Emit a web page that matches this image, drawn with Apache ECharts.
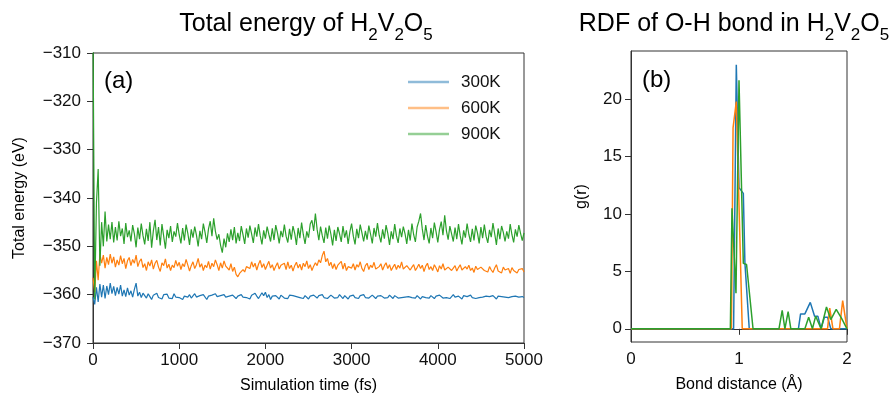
<!DOCTYPE html>
<html><head><meta charset="utf-8">
<script src="https://cdn.jsdelivr.net/npm/echarts@6/dist/echarts.min.js"></script>
<style>html,body{margin:0;padding:0;background:#fff}#c{width:896px;height:399px}</style>
</head><body><div id="c"></div>
<script>
// ---------- data ----------
const seriesNames = ['300K', '600K', '900K'];
const timeStep = 20; // fs between samples

const energy300K = [
-360.5,-362.0,-358.5,-361.5,-357.8,-360.5,-358.0,-360.8,-358.2,-360.0,
-357.6,-359.8,-358.3,-360.2,-358.5,-359.9,-358.0,-360.3,-359.0,-360.4,
-358.6,-360.1,-359.2,-360.5,-358.9,-357.6,-360.3,-359.5,-360.6,-359.7,
-360.2,-360.7,-359.8,-360.4,-361.0,-360.1,-360.5,-359.7,-360.6,-360.2,
-360.9,-360.0,-360.4,-359.9,-360.7,-360.3,-360.8,-359.8,-360.5,-360.1,
-360.6,-360.2,-361.0,-360.3,-359.9,-360.5,-360.0,-360.7,-360.4,-359.8,
-360.5,-360.9,-360.2,-360.6,-360.0,-360.4,-361.0,-360.3,-360.7,-360.1,
-360.5,-359.8,-360.4,-360.8,-360.2,-360.6,-360.0,-360.5,-360.9,-360.3,
-360.6,-360.1,-360.4,-360.8,-360.3,-360.7,-360.0,-360.5,-360.2,-360.6,
-360.4,-360.9,-360.1,-360.5,-359.7,-360.3,-360.8,-360.4,-359.6,-360.2,
-359.5,-360.6,-360.0,-361.0,-360.3,-360.7,-360.2,-360.5,-360.9,-360.1,
-360.4,-360.7,-360.3,-360.8,-360.1,-360.5,-360.2,-360.6,-360.4,-360.0,
-360.6,-360.3,-360.8,-360.2,-360.5,-360.9,-360.3,-360.6,-360.1,-360.4,
-360.7,-360.2,-360.5,-360.0,-360.6,-360.3,-360.8,-360.4,-360.1,-360.5,
-360.7,-360.3,-360.6,-360.0,-360.4,-360.8,-360.2,-360.5,-360.9,-360.3,
-360.5,-360.1,-360.6,-360.4,-360.8,-360.2,-360.5,-360.0,-360.6,-360.3,
-360.7,-360.4,-360.1,-360.5,-360.8,-360.3,-360.6,-360.2,-360.5,-360.7,
-360.3,-360.6,-360.1,-360.4,-360.8,-360.2,-360.5,-360.7,-360.3,-360.6,
-360.2,-360.5,-360.8,-360.4,-360.1,-360.6,-360.3,-360.7,-360.2,-360.5,
-360.9,-360.4,-360.0,-360.6,-360.3,-360.7,-360.2,-360.5,-360.8,-360.3,
-360.6,-360.1,-360.5,-360.7,-360.3,-360.6,-360.2,-360.8,-360.4,-360.0,
-360.5,-360.7,-360.3,-360.6,-360.9,-360.2,-360.5,-360.4,-360.7,-360.1,
-360.6,-360.3,-360.8,-360.4,-360.6,-360.2,-360.5,-360.8,-360.3,-360.6,
-360.4,-360.7,-360.2,-360.5,-360.9,-360.3,-360.6,-360.4,-360.8,-360.5,
-360.2,-360.6,-360.9,-360.4,-360.7,-360.3,-360.6,-360.5,-360.8,-360.4,
-360.6
];

const energy600K = [
-356.5,-359.5,-353.0,-357.0,-351.5,-353.5,-351.8,-354.5,-352.3,-353.8,-351.6,
-353.5,-352.2,-354.3,-352.8,-353.9,-351.9,-353.6,-352.5,-354.6,-353.0,
-352.3,-354.0,-352.7,-353.5,-351.8,-354.2,-353.1,-352.6,-354.4,
-353.6,-355.0,-353.2,-354.1,-352.8,-354.7,-353.5,-352.9,-354.3,-355.2,
-353.4,-354.0,-352.6,-354.5,-353.7,-355.0,-353.9,-354.4,-352.9,-354.1,
-353.3,-354.8,-353.6,-354.2,-352.7,-353.9,-355.1,-354.0,-353.2,-354.6,
-353.8,-352.5,-354.3,-353.6,-355.0,-353.9,-354.4,-353.1,-354.7,-353.5,
-354.2,-352.8,-353.8,-355.0,-353.4,-354.5,-353.0,-354.1,-353.7,-354.9,
-353.6,-355.2,-354.3,-355.8,-356.3,-355.6,-356.0,-354.8,-355.3,-354.2,
-353.8,-354.6,-353.2,-354.3,-353.5,-354.9,-353.7,-352.9,-354.4,-353.6,
-354.8,-353.9,-353.1,-354.5,-353.8,-355.0,-354.1,-353.4,-354.7,-353.9,
-354.3,-353.5,-354.8,-353.2,-354.6,-353.9,-355.1,-354.0,-353.3,-354.5,
-353.7,-354.9,-353.5,-354.2,-353.0,-354.6,-353.8,-355.0,-354.1,-353.4,
-354.0,-352.8,-353.4,-351.9,-351.0,-353.2,-352.5,-354.0,-353.3,-354.6,
-353.6,-354.8,-353.9,-354.3,-353.1,-354.7,-353.5,-355.0,-354.2,-353.8,
-354.5,-353.6,-354.9,-353.8,-354.3,-353.2,-354.6,-355.2,-354.0,-353.5,
-354.8,-353.9,-354.4,-353.3,-354.7,-355.1,-354.2,-353.6,-354.9,-354.0,
-353.4,-354.6,-353.8,-355.0,-354.3,-353.7,-354.8,-353.9,-354.5,-353.2,
-354.7,-355.1,-354.0,-353.6,-354.9,-354.3,-353.8,-355.0,-354.4,-353.7,
-354.6,-353.9,-355.2,-354.1,-353.5,-354.8,-354.2,-355.0,-353.8,-354.5,
-355.3,-354.0,-354.7,-353.6,-354.9,-355.2,-354.3,-353.9,-355.0,-354.5,
-354.0,-355.1,-354.4,-353.8,-354.9,-355.3,-354.2,-354.7,-353.9,-355.0,
-354.5,-355.4,-354.1,-354.8,-355.2,-354.3,-353.9,-355.0,-354.6,-355.3,
-354.2,-354.9,-355.4,-354.5,-353.8,-355.1,-354.7,-355.5,-354.3,-354.9,
-355.2,-354.6,-355.6,-354.4,-355.0,-354.7,-355.5,-354.8,-355.2,-354.6,
-355.3
];

const energy900K = [
-305.0,-361.0,-341.0,-334.0,-354.0,-345.0,-350.0,-342.8,-349.0,-345.5,-348.5,
-345.0,-349.2,-346.0,-348.8,-344.8,-347.9,-346.3,-349.5,-345.2,-348.1,
-346.7,-349.0,-345.6,-347.4,-350.2,-346.1,-348.5,-345.3,-347.8,
-349.6,-346.4,-348.9,-345.0,-350.3,-346.8,-344.5,-348.7,-346.0,-349.8,
-345.4,-347.9,-350.5,-346.6,-348.3,-345.8,-349.1,-346.9,-348.0,-345.2,
-347.6,-349.4,-346.2,-348.8,-345.5,-347.3,-349.7,-346.5,-348.2,-345.9,
-347.7,-350.0,-346.8,-348.5,-345.3,-347.1,-349.3,-346.4,-344.8,-347.9,
-344.2,-346.9,-348.6,-347.5,-349.8,-351.3,-348.4,-350.2,-347.3,-349.1,
-346.5,-348.7,-346.0,-349.4,-347.2,-348.9,-345.8,-347.6,-349.5,-346.3,
-348.2,-345.7,-347.4,-349.3,-346.1,-348.0,-345.4,-347.8,-349.6,-346.7,
-348.4,-345.9,-347.5,-349.0,-346.3,-348.7,-345.6,-347.2,-349.4,-346.8,
-348.1,-345.5,-347.9,-349.2,-346.4,-348.6,-345.8,-347.3,-349.7,-346.2,
-348.3,-345.1,-347.6,-349.5,-346.9,-348.2,-345.4,-344.6,-346.8,-343.2,
-346.5,-348.7,-345.9,-347.8,-349.3,-346.1,-348.4,-345.7,-347.5,-349.8,
-346.6,-348.9,-346.0,-347.4,-349.1,-345.8,-348.2,-346.7,-349.5,-347.0,
-345.3,-347.9,-349.6,-346.4,-348.3,-345.5,-347.2,-349.0,-346.8,-348.6,
-345.7,-347.5,-349.4,-346.2,-348.0,-345.2,-347.7,-349.2,-346.5,-348.4,
-345.6,-347.3,-349.7,-346.9,-348.5,-345.4,-347.8,-349.3,-346.3,-348.1,
-345.9,-347.4,-349.5,-346.6,-348.8,-345.3,-347.6,-349.1,-346.0,-344.8,
-343.2,-346.4,-348.7,-345.6,-347.9,-349.4,-346.2,-348.3,-345.1,-347.0,
-349.2,-346.5,-344.9,-347.7,-343.6,-346.8,-348.6,-345.8,-347.4,-349.0,
-346.1,-348.5,-345.4,-347.8,-349.6,-346.7,-348.2,-345.3,-347.5,-349.1,
-346.4,-348.8,-345.7,-347.2,-349.4,-346.0,-348.3,-345.5,-347.9,-349.3,
-346.6,-348.1,-345.2,-347.4,-349.7,-346.3,-348.5,-345.8,-347.1,-349.0,
-346.9,-348.4,-345.4,-347.6,-349.2,-346.5,-348.0,-345.6,-347.3,-348.8,
-347.2
];

const energyTicks = [-370, -360, -350, -340, -330, -320, -310];
const timeTicks = [0, 1000, 2000, 3000, 4000, 5000];

// RDF of O-H bond
const rdfDist300K = [0, 0.95, 0.975, 1.0, 1.04, 1.055, 1.095, 1.55, 1.57, 1.61, 1.66, 1.70, 1.73, 1.76, 1.79, 1.82, 1.85, 2.0];
const rdfG300K    = [0, 0,    23.0,  12.3, 11.8, 5.7,   0,     0,    1.3,  1.3,  2.3,  1.1,  1.1,  0,    1.0,  1.0,  0,    0];
const rdfDist600K = [0, 0.93, 0.945, 0.975, 1.03, 1.82, 1.84, 1.87, 1.93, 1.96, 2.0];
const rdfG600K    = [0, 0,    17.5,  19.8,  0,    0,    1.8,  0,    0,    2.45, 0];
const rdfDist900K = [0, 0.92, 0.935, 0.972, 1.0, 1.04, 1.07, 1.13, 1.37, 1.40, 1.425, 1.455, 1.48, 1.61, 1.645, 1.68, 1.71, 1.76, 1.81, 1.85, 1.90, 1.95, 2.0];
const rdfG900K    = [0, 0,    10.5,  3.1,   21.65, 5.7, 5.6,  0,    0,    1.6,  0,     1.5,   0,    0,    1.0,   0,    1.1,  0,    1.9,  0.8,  1.7,  0.9,  0];
const gTicks = [0, 5, 10, 15, 20];
const distTicks = [0, 1, 2];

// ---------- style ----------
const colors = ['#1f77b4', '#ff7f0e', '#2ca02c'];
const legendColors = ['#8fbbd9', '#ffbf86', '#95cf95'];
const FF = 'Liberation Sans, Arial, sans-serif';
const AX = '#333';
const plain = v => String(v).replace('-', '\u2212');

const energies = [energy300K, energy600K, energy900K];
const rdfX = [rdfDist300K, rdfDist600K, rdfDist900K];
const rdfY = [rdfG300K, rdfG600K, rdfG900K];

const chart = echarts.init(document.getElementById('c'), null, {renderer: 'canvas'});

const titleRich = {
  n: {fontSize: 25, fontFamily: FF, color: '#000', lineHeight: 30, verticalAlign: 'top'},
  s: {fontSize: 17, fontFamily: FF, color: '#000', lineHeight: 17, padding: [15, 0, 0, 0], verticalAlign: 'top'}
};

const baseAxis = {
  axisLine: {show: true, lineStyle: {color: AX, width: 1}},
  axisTick: {show: true, inside: false, length: 6, lineStyle: {color: AX}},
  splitLine: {show: false},
  nameTextStyle: {fontFamily: FF, fontSize: 16, color: '#000'}
};

const option = {
  animation: false,
  backgroundColor: '#fff',
  grid: [
    {left: 93, top: 53, width: 431, height: 290, show: true, borderColor: AX, borderWidth: 1, containLabel: false},
    {left: 631, top: 51, width: 216, height: 291, show: true, borderColor: AX, borderWidth: 1, containLabel: false}
  ],
  xAxis: [
    Object.assign({}, baseAxis, {
      type: 'value', gridIndex: 0, min: 0, max: 5000, interval: 1000,
      name: 'Simulation time (fs)', nameLocation: 'middle', nameGap: 35,
      axisLabel: {fontFamily: FF, fontSize: 17, color: '#111', margin: 9, formatter: plain, customValues: timeTicks},
      axisTick: Object.assign({}, baseAxis.axisTick, {customValues: timeTicks})
    }),
    Object.assign({}, baseAxis, {
      type: 'value', gridIndex: 1, min: 0, max: 2, interval: 1,
      name: 'Bond distance (\u00c5)', nameLocation: 'middle', nameGap: 35,
      axisLabel: {fontFamily: FF, fontSize: 17, color: '#111', margin: 9, formatter: plain, customValues: distTicks},
      axisTick: Object.assign({}, baseAxis.axisTick, {customValues: distTicks})
    })
  ],
  yAxis: [
    Object.assign({}, baseAxis, {
      type: 'value', gridIndex: 0, min: -370, max: -310, interval: 10,
      name: 'Total energy (eV)', nameLocation: 'middle', nameGap: 65, nameRotate: 90,
      axisLabel: {fontFamily: FF, fontSize: 17, color: '#111', margin: 12, formatter: plain, customValues: energyTicks},
      axisTick: Object.assign({}, baseAxis.axisTick, {customValues: energyTicks})
    }),
    Object.assign({}, baseAxis, {
      type: 'value', gridIndex: 1, min: -1.15, max: 24.2,
      name: 'g(r)', nameLocation: 'middle', nameGap: 41, nameRotate: 90,
      axisLabel: {fontFamily: FF, fontSize: 17, color: '#111', margin: 9, formatter: plain, customValues: gTicks},
      axisTick: Object.assign({}, baseAxis.axisTick, {customValues: gTicks})
    })
  ],
  legend: {
    orient: 'vertical', left: 403, top: 68,
    icon: 'rect', itemWidth: 41, itemHeight: 2.5, itemGap: 8,
    textStyle: {fontFamily: FF, fontSize: 17, color: '#111', lineHeight: 18, padding: [0, 0, 0, 7]},
    data: seriesNames.map((n, i) => ({name: n, itemStyle: {color: legendColors[i]}}))
  },
  graphic: [
    {type: 'text', x: 306, y: 12, style: {text: '{n|Total energy of H}{s|2}{n|V}{s|2}{n|O}{s|5}', rich: titleRich, align: 'center', verticalAlign: 'top'}},
    {type: 'text', x: 734, y: 12, style: {text: '{n|RDF of O-H bond in H}{s|2}{n|V}{s|2}{n|O}{s|5}', rich: titleRich, align: 'center', verticalAlign: 'top'}},
    {type: 'text', x: 104, y: 81, style: {text: '(a)', font: '24px Liberation Sans', fill: '#000', align: 'left', verticalAlign: 'middle'}},
    {type: 'text', x: 642, y: 80, style: {text: '(b)', font: '24px Liberation Sans', fill: '#000', align: 'left', verticalAlign: 'middle'}}
  ],
  series: [].concat(
    energies.map((arr, k) => ({
      name: seriesNames[k], type: 'line', xAxisIndex: 0, yAxisIndex: 0,
      showSymbol: false, symbol: 'none', clip: true,
      lineStyle: {color: colors[k], width: 1.2}, itemStyle: {color: colors[k]},
      data: arr.map((v, i) => [i * timeStep, v])
    })),
    rdfX.map((xs, k) => ({
      name: seriesNames[k], type: 'line', xAxisIndex: 1, yAxisIndex: 1,
      showSymbol: false, symbol: 'none', clip: true,
      lineStyle: {color: colors[k], width: 1.5}, itemStyle: {color: colors[k]},
      data: xs.map((x, i) => [x, rdfY[k][i]])
    }))
  )
};
chart.setOption(option);
</script>
</body></html>
